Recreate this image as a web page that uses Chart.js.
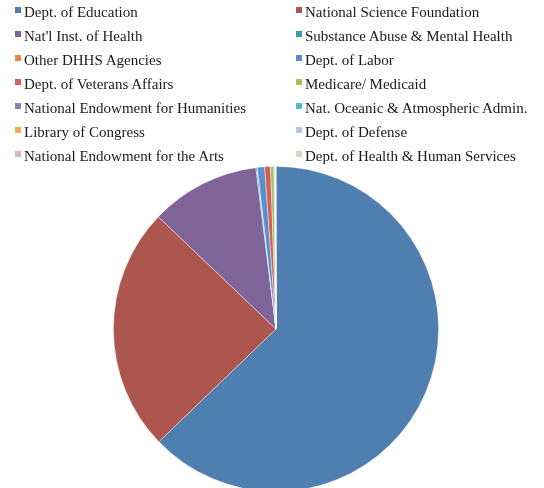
<!DOCTYPE html>
<html>
<head>
<meta charset="utf-8">
<script src="https://cdn.jsdelivr.net/npm/chart.js@4/dist/chart.umd.min.js"></script>
<style>
    body { margin: 0; width: 544px; height: 488px; overflow: hidden; background: #fff; position: relative; }
    #chart { position: absolute; left: 0; top: 0; }
    #legend { position: absolute; left: 0; top: 0; width: 544px; font-family: "Liberation Serif", serif; font-size: 15px; color: #1a1a1a; }
    .item { position: absolute; height: 24px; line-height: 24px; white-space: nowrap; }
    .box { position: absolute; left: 0; top: 7px; width: 6px; height: 6px; }
    .item span { position: absolute; left: 9px; top: 0; }
</style>
</head>
<body>
<canvas id="chart" width="544" height="496"></canvas>
<div id="legend"></div>
<script>
const agencies = [
    "Dept. of Education", "National Science Foundation",
    "Nat'l Inst. of Health", "Substance Abuse & Mental Health",
    "Other DHHS Agencies", "Dept. of Labor",
    "Dept. of Veterans Affairs", "Medicare/ Medicaid",
    "National Endowment for Humanities", "Nat. Oceanic & Atmospheric Admin.",
    "Library of Congress", "Dept. of Defense",
    "National Endowment for the Arts", "Dept. of Health & Human Services"
];
// share of funding, percent
const shares = [62.8, 24.3, 10.9, 0.12, 0.03, 0.72, 0.58, 0.33, 0.06, 0.04, 0.03, 0.03, 0.02, 0.02];
const colors = [
    "#4F7EB0", "#AD564F", "#7E6499", "#3F9BB1",
    "#E08A45", "#5B8FCB", "#D0605A", "#A5C064",
    "#8F7DB5", "#55B8D2", "#F5A556", "#B6C4DD",
    "#DDBABA", "#CFDDBB"
];

const legend = document.getElementById("legend");
for (let i = 0; i < agencies.length; i++) {
    let item = document.createElement("div");
    item.classList.add("item");
    item.style.left = (i % 2 === 0 ? 15 : 296) + "px";
    item.style.top = (Math.floor(i / 2) * 24) + "px";

    let box = document.createElement("div");
    box.classList.add("box");
    box.style.backgroundColor = colors[i];

    let text = document.createElement("span");
    text.innerText = agencies[i];

    item.appendChild(box);
    item.appendChild(text);
    legend.appendChild(item);
}

const ctx = document.getElementById("chart").getContext("2d");
const myChart = new Chart(ctx, {
    type: "pie",
    data: {
        labels: agencies,
        datasets: [{
            data: shares,
            backgroundColor: colors,
            borderColor: "rgba(255,255,255,0.5)",
            borderWidth: 0.8
        }]
    },
    options: {
        responsive: false,
        animation: false,
        layout: { padding: { top: 166, bottom: 4, left: 113, right: 105 } },
        plugins: {
            legend: { display: false },
            tooltip: { enabled: false }
        }
    }
});
</script>
</body>
</html>
